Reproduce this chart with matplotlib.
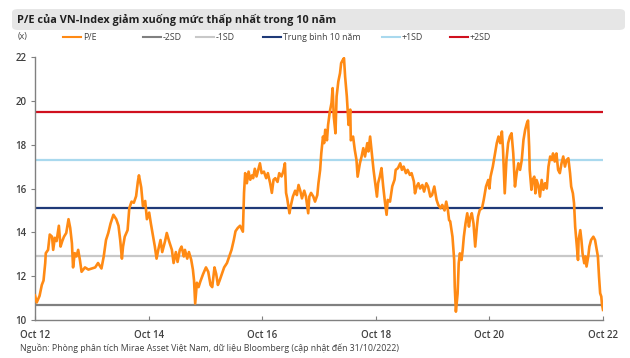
import numpy as np
import matplotlib.pyplot as plt
from matplotlib.patches import FancyBboxPatch
from matplotlib.lines import Line2D

# P/E cua VN-Index (doc tu hinh, truc x = nam thap phan)
t = [2012.75, 2012.78, 2012.83, 2012.87, 2012.90, 2012.93, 2012.94, 2012.98, 2013.01, 2013.05,
     2013.07, 2013.10, 2013.13, 2013.17, 2013.20, 2013.23, 2013.26, 2013.30, 2013.34, 2013.37,
     2013.40, 2013.42, 2013.45, 2013.48, 2013.51, 2013.54, 2013.57, 2013.63, 2013.69, 2013.75,
     2013.81, 2013.86, 2013.92, 2013.96, 2014.00, 2014.04, 2014.08, 2014.13, 2014.18, 2014.22,
     2014.25, 2014.28, 2014.30, 2014.33, 2014.38, 2014.41, 2014.45, 2014.49, 2014.53,
     2014.56, 2014.58, 2014.62, 2014.65, 2014.69, 2014.72, 2014.76, 2014.79, 2014.83, 2014.86,
     2014.89, 2014.92, 2014.96, 2014.99, 2015.04, 2015.07, 2015.11, 2015.16, 2015.19, 2015.23,
     2015.26, 2015.30, 2015.33, 2015.37, 2015.39, 2015.43, 2015.46, 2015.50, 2015.53, 2015.55,
     2015.57, 2015.60, 2015.63, 2015.66, 2015.71, 2015.76, 2015.80, 2015.84, 2015.87, 2015.91,
     2015.94, 2015.97, 2016.00, 2016.04, 2016.08, 2016.13, 2016.17, 2016.21, 2016.25, 2016.28,
     2016.32, 2016.36, 2016.41, 2016.43, 2016.45,
     2016.48, 2016.51, 2016.54, 2016.57, 2016.59, 2016.62, 2016.65, 2016.68, 2016.71, 2016.74,
     2016.78, 2016.82, 2016.85, 2016.89, 2016.92, 2016.95, 2016.98, 2017.02, 2017.05, 2017.09,
     2017.12, 2017.15, 2017.17, 2017.19, 2017.23, 2017.25, 2017.29, 2017.33, 2017.36, 2017.39,
     2017.42, 2017.45, 2017.49, 2017.52, 2017.56, 2017.58, 2017.61, 2017.65, 2017.68, 2017.72,
     2017.74, 2017.77, 2017.79, 2017.82, 2017.84, 2017.86, 2017.89, 2017.91, 2017.94, 2017.97,
     2017.99, 2018.01, 2018.04, 2018.06, 2018.09, 2018.12, 2018.14, 2018.17, 2018.19, 2018.21,
     2018.24, 2018.27, 2018.30,
     2018.31, 2018.35, 2018.38, 2018.41, 2018.43, 2018.47, 2018.50, 2018.53, 2018.56, 2018.60,
     2018.62, 2018.65, 2018.68, 2018.71, 2018.74, 2018.77, 2018.79, 2018.82, 2018.85, 2018.88,
     2018.91, 2018.94, 2018.96, 2019.00, 2019.04, 2019.08, 2019.10, 2019.14, 2019.18, 2019.21,
     2019.24, 2019.28, 2019.31, 2019.35, 2019.38, 2019.42, 2019.44, 2019.47, 2019.50, 2019.53,
     2019.57, 2019.60, 2019.64, 2019.67, 2019.71, 2019.74, 2019.78, 2019.82, 2019.85, 2019.89,
     2019.92, 2019.96, 2019.99, 2020.02, 2020.04,
     2020.06, 2020.10, 2020.13, 2020.14, 2020.16, 2020.19, 2020.21, 2020.23, 2020.26, 2020.28,
     2020.30, 2020.33, 2020.36, 2020.39, 2020.41, 2020.44, 2020.47, 2020.50, 2020.53, 2020.55,
     2020.58, 2020.62, 2020.65, 2020.69, 2020.73, 2020.75, 2020.77, 2020.81, 2020.84, 2020.88,
     2020.91, 2020.94, 2020.97, 2020.99, 2021.02, 2021.05, 2021.08, 2021.11, 2021.14, 2021.17,
     2021.20, 2021.23, 2021.26, 2021.29, 2021.32, 2021.35, 2021.38, 2021.41, 2021.43, 2021.45,
     2021.46, 2021.49, 2021.51, 2021.54, 2021.56, 2021.58, 2021.61, 2021.64, 2021.67, 2021.70,
     2021.73, 2021.76, 2021.79, 2021.82, 2021.85, 2021.87, 2021.90, 2021.93, 2021.96,
     2021.99, 2022.02, 2022.05, 2022.08, 2022.11, 2022.14, 2022.17, 2022.19, 2022.22, 2022.24,
     2022.26, 2022.29, 2022.31, 2022.32, 2022.35, 2022.37, 2022.39, 2022.42, 2022.44, 2022.46,
     2022.49, 2022.51, 2022.54, 2022.58, 2022.61, 2022.64, 2022.66, 2022.68, 2022.70, 2022.72,
     2022.73, 2022.75]

pe = [11.12, 10.8, 11.1, 11.6, 11.8, 12.6, 13.05, 13.2, 13.9, 13.8,
      13.2, 13.75, 13.6, 14.3, 13.35, 13.6, 13.8, 13.97, 14.6, 14.2,
      13.5, 12.4, 13.05, 12.9, 13.2, 12.75, 12.2, 12.4, 12.3, 12.35,
      12.4, 12.6, 12.35, 12.9, 13.65, 13.97, 14.4, 14.8, 14.6, 14.3,
      13.65, 12.8, 13.35, 13.8, 14.1, 15.1, 15.4, 15.35, 15.65,
      16.3, 16.6, 16.05, 15.2, 15.43, 14.6, 14.9, 14.4, 13.8, 13.35,
      12.8, 13.2, 13.65, 13.1, 13.6, 13.97, 13.6, 13.2, 12.6, 13.1,
      12.65, 13.2, 13.35, 12.9, 13.2, 12.8, 13.1, 12.75, 12.3, 11.8,
      10.75, 11.7, 11.5, 11.75, 12.1, 12.4, 12.2, 11.6, 11.5, 12.4,
      12.1, 11.6, 11.8, 12.1, 12.4, 12.6, 12.9, 13.2, 13.65, 14.05,
      14.2, 14.3, 14.03, 15.8, 16.7,
      16.24, 16.77, 16.4, 16.6, 16.47, 16.9, 16.55, 16.85, 17.15, 16.7,
      16.77, 16.47, 16.7, 16.24, 15.8, 16.4, 16.47, 16.3, 16.7, 16.55,
      16.77, 17.15, 15.8, 15.55, 14.87, 15.17, 15.63, 15.9, 15.7, 16.16,
      15.9, 15.55, 15.9, 15.63, 14.87, 15.63, 15.8, 15.63, 15.4, 15.7,
      16.24, 16.85, 17.6, 18.37, 18.07, 18.68, 18.2, 18.9, 19.5, 19.9,
      20.58, 19.28, 18.52, 20.2, 20.88, 21.26, 21.72, 21.87, 21.95, 21.1,
      20.2, 18.9, 19.6,
      18.2, 18.37, 17.76, 17.3, 16.54, 17.15, 17.46, 17.84, 17.46, 18.07,
      17.69, 18.37, 17.6, 16.85, 16.24, 15.63, 16.24, 16.54, 16.93, 16.1,
      15.4, 14.8, 15.48, 15.4, 16.1, 16.4, 16.85, 16.93, 17.15, 16.85,
      17.0, 16.7, 16.85, 16.62, 16.7, 16.32, 15.78, 16.09, 16.24, 16.0,
      16.16, 15.86, 16.24, 16.09, 15.63, 15.7, 16.09, 15.48, 15.25, 15.1,
      15.25, 15.0, 15.4, 15.0, 14.56,
      14.5, 13.8, 12.74, 11.52, 10.38, 11.2, 12.59, 13.04, 12.74, 13.2,
      13.8, 14.41, 14.87, 14.26, 14.64, 14.87, 14.41, 13.35, 14.26, 14.72,
      15.02, 15.1, 15.48, 16.09, 16.39, 16.0, 16.54, 17.0, 17.46, 18.07,
      18.37, 18.07, 18.6, 17.76, 15.78, 17.3, 18.07, 18.37, 18.52, 17.6,
      16.09, 16.7, 17.15, 16.85, 17.3, 18.22, 18.68, 18.98, 19.1, 17.9,
      16.85, 15.94, 16.39, 16.54, 15.78, 16.39, 16.16, 15.63, 16.39, 15.94,
      16.24, 16.0, 17.0, 17.46, 17.3, 17.6, 17.23, 17.6, 16.85,
      16.7, 17.15, 17.46, 17.0, 17.3, 17.38, 16.7, 16.09, 15.78, 15.33,
      14.26, 13.35, 12.74, 13.65, 14.1, 13.65, 13.04, 12.59, 12.9, 12.44,
      12.9, 13.35, 13.65, 13.8, 13.65, 13.2, 12.9, 11.98, 11.22, 11.07,
      10.76, 10.46]

# cac duong tham chieu
bands = [10.7, 12.9, 15.1, 17.3, 19.5]
band_names = ['-2SD', '-1SD', 'Trung bình 10 năm', '+1SD', '+2SD']
band_colors = ['#808080', '#c8c8c8', '#1f3a78', '#a9d9ee', '#d0101e']

xticks = [2012.75, 2014.75, 2016.75, 2018.75, 2020.75, 2022.75]
xlabels = ['Oct 12', 'Oct 14', 'Oct 16', 'Oct 18', 'Oct 20', 'Oct 22']
yticks = [10, 12, 14, 16, 18, 20, 22]

pe_color = '#ff8a14'
txt = '#404040'
plt.rcParams['font.family'] = ['Open Sans', 'DejaVu Sans']

fig = plt.figure(figsize=(6.3, 3.58), dpi=100)
ax = fig.add_axes([35 / 630, 38 / 358, 568 / 630, 263 / 358])

for v, c in zip(bands, band_colors):
    ax.axhline(v, color=c, lw=1.6, zorder=1)
ax.plot(t, pe, color=pe_color, lw=1.9, zorder=3)

ax.set_xlim(2012.75, 2022.75)
ax.set_ylim(10, 22)
ax.set_xticks(xticks)
ax.set_xticklabels(xlabels)
ax.set_yticks(yticks)
for s in ['top', 'right']:
    ax.spines[s].set_visible(False)
for s in ['left', 'bottom']:
    ax.spines[s].set_color('#808080')
    ax.spines[s].set_linewidth(1.0)
ax.tick_params(axis='x', direction='in', length=3, color='#808080', labelsize=7,
               labelcolor=txt, pad=7)
ax.tick_params(axis='y', direction='out', length=3, color='#808080', labelsize=7,
               labelcolor=txt, pad=3)
for lab in ax.get_xticklabels() + ax.get_yticklabels():
    lab.set_fontweight('semibold')

# thanh tieu de
box = FancyBboxPatch((12 / 630, 1 - 30 / 358), 613 / 630, 21 / 358,
                     boxstyle='round,pad=0,rounding_size=0.01', transform=fig.transFigure,
                     facecolor='#e6e6e6', edgecolor='none')
fig.patches.append(box)
fig.text(17 / 630, 1 - 19.5 / 358, 'P/E của VN-Index giảm xuống mức thấp nhất trong 10 năm',
         fontsize=7.8, fontweight='bold', color='#202020', va='center')

# chu thich
ly = 1 - 37 / 358
fig.text(18 / 630, ly, '(x)', fontsize=6.3, color=txt, va='center')
leg_names = ['P/E'] + band_names
leg_colors = [pe_color] + band_colors
leg_x = [63, 143, 196, 263, 382, 450]
for x0, name, c in zip(leg_x, leg_names, leg_colors):
    fig.lines.append(Line2D([x0 / 630, (x0 + 18) / 630], [ly, ly], color=c, lw=1.5,
                            transform=fig.transFigure))
    fig.text((x0 + 20) / 630, ly, name, fontsize=6.3, color=txt, va='center')

fig.text(20 / 630, 1 - 348 / 358,
         'Nguồn: Phòng phân tích Mirae Asset Việt Nam, dữ liệu Bloomberg (cập nhật đến 31/10/2022)',
         fontsize=6.3, color=txt, va='center')

fig.savefig('out.png', dpi=100)
